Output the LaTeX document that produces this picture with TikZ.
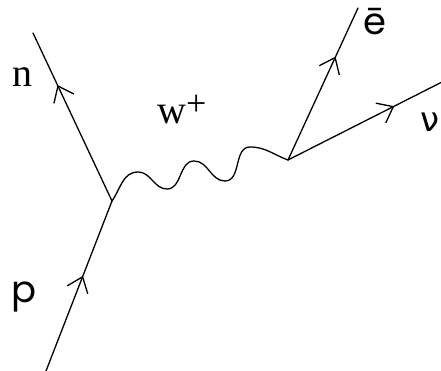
\documentclass[tikz,border=0pt]{standalone}
\usepackage{fontspec}
\usepackage{tikz}
\usetikzlibrary{arrows.meta,positioning,decorations.markings}
\newfontfamily\serifl{Liberation Serif}
\newfontfamily\geol{Poppins}
\newfontfamily\greekl{DejaVu Sans}
\newcommand{\bigsup}[1]{{\fontsize{36}{36}\selectfont\raisebox{8pt}{#1}}}
\tikzset{
  leg/.style={line width=1.3pt, line cap=round},
  fermion/.style={leg, postaction={decorate},
    decoration={markings, mark=at position #1 with
      {\arrow{Straight Barb[length=14pt, width=22pt, line width=1.3pt]}}}},
  boson/.style={leg},
  namelbl/.style={inner sep=0pt, anchor=base west, font=\fontsize{40}{48}\serifl},
  partlbl/.style={inner sep=0pt, anchor=base west, font=\fontsize{37}{44}\geol}}

\begin{document}
\begin{tikzpicture}[x=1pt, y=1pt]
  \useasboundingbox (0,0) rectangle (441,371);
  % vertices and free ends
  \coordinate (vin) at (112,170);
  \coordinate (vout) at (288,211);
  \coordinate (pend) at (46,0);
  \coordinate (nend) at (33,338);
  \coordinate (eend) at (358,363);
  \coordinate (nuend) at (442,289);
  \draw[fermion=0.56] (pend) -- (vin);
  \draw[fermion=0.69] (vin) -- (nend);
  \draw[fermion=0.68] (vout) -- (eend);
  \draw[fermion=0.69] (vout) -- (nuend);
  % the boson
  \coordinate (w1) at (138,199);
  \coordinate (w2) at (167,182);
  \coordinate (w3) at (194,210);
  \coordinate (w4) at (225,190);
  \coordinate (w5) at (250,224);
  \draw[boson] (vin) to[out=55,in=180] (w1) to[out=0,in=180] (w2)
    to[out=0,in=180] (w3) to[out=0,in=180] (w4) to[out=0,in=180] (w5)
    to[out=0,in=160] (vout);
  % labels
  \node[namelbl] (nlbl) at (12,284) {n};
  \node[namelbl] (wlbl) at (157,247) {w\bigsup{+}};
  \node[partlbl] (plbl) at (11,68) {p};
  \node[partlbl] (elbl) at (363,336) {ē};
  \node[partlbl, font=\fontsize{34}{44}\greekl] (nulbl) at (420,239) {ν};
\end{tikzpicture}
\end{document}
